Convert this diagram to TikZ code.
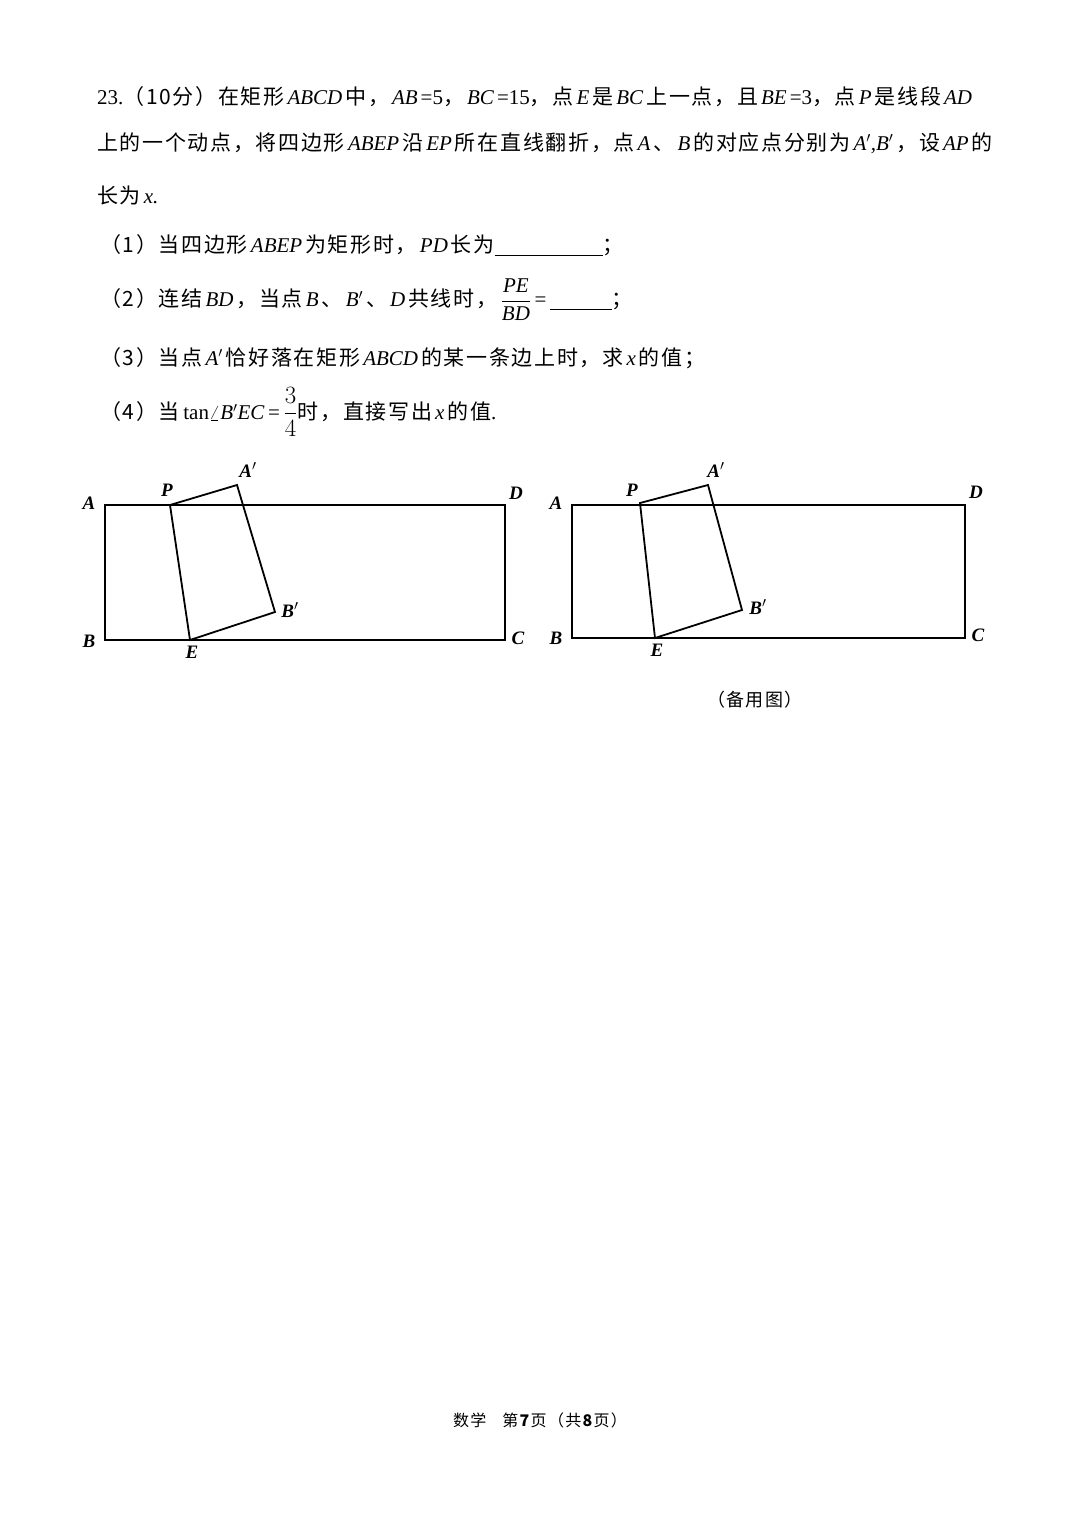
\documentclass[tikz,border=0pt]{standalone}
\usepackage{amsmath}
\usepackage{fontspec}
\setmainfont{Liberation Serif}
\newfontfamily\cjk[LetterSpace=8]{Noto Sans CJK SC}
\newcommand{\mi}[1]{\hspace{3pt}\textit{#1}\hspace{3pt}}
\begin{document}
\begin{tikzpicture}[x=1pt,y=-1pt,
  txt/.style={anchor=west,inner sep=0pt,font=\fontsize{21}{24}\selectfont},
  lbl/.style={inner sep=0pt,font=\fontsize{19}{22}\selectfont\bfseries\itshape},
  edge/.style={line width=1.1pt},
  fold/.style={line width=1.8pt}]
\useasboundingbox[fill=white] (0,0) rectangle (1080,1527);
\node[txt] (l1) at (97,97) {23.{\cjk（10分）在矩形}\mi{ABCD}{\cjk 中，}\mi{AB}=5{\cjk ，}\mi{BC}=15{\cjk ，点}\mi{E}{\cjk 是}\mi{BC}{\cjk 上一点，且}\mi{BE}=3{\cjk ，点}\mi{P}{\cjk 是线段}\mi{AD}};
\node[txt] (l2) at (97,143) {{\cjk 上的一个动点，将四边形}\mi{ABEP}{\cjk 沿}\mi{EP}{\cjk 所在直线翻折，点}\mi{A}{\cjk 、}\mi{B}{\cjk 的对应点分别为}\mi{A$'$,B$'$}{\cjk ，设}\mi{AP}{\cjk 的}};
\node[txt] (l3) at (97,195) {{\cjk 长为}\mi{x.}};
\node[txt] (q1) at (100,245) {{\cjk （1）当四边形}\mi{ABEP}{\cjk 为矩形时，}\mi{PD}{\cjk 长为}\rule[-3pt]{108pt}{0.8pt}{\cjk ；}};
\node[txt] (q2) at (100,300) {{\cjk （2）连结}\mi{BD}{\cjk ，当点}\mi{B}{\cjk 、}\mi{B$'$}{\cjk 、}\mi{D}{\cjk 共线时，}\,$\dfrac{\textit{PE}}{\textit{BD}}$\,=\,\rule[-3pt]{62pt}{0.8pt}{\cjk ；}};
\node[txt] (q3) at (100,358) {{\cjk （3）当点}\mi{A$'$}{\cjk 恰好落在矩形}\mi{ABCD}{\cjk 的某一条边上时，求}\mi{x}{\cjk 的值；}};
\node[txt] (q4) at (100,412) {{\cjk （4）当}\,tan$\angle$\textit{B}$'$\textit{EC}\,=\,\scalebox{1.2}{$\dfrac{3}{4}$}{\cjk 时，直接写出}\mi{x}{\cjk 的值}.};
% figure 1
\coordinate (A1) at (105,505); \coordinate (D1) at (505,505);
\coordinate (B1) at (105,640); \coordinate (C1) at (505,640);
\coordinate (P1) at (170,505); \coordinate (Ap1) at (237,485);
\coordinate (Bp1) at (275,612); \coordinate (E1) at (190,640);
\draw[edge] (A1) -- (D1) -- (C1) -- (B1) -- cycle;
\draw[fold] (P1) -- (Ap1) -- (Bp1) -- (E1) -- cycle;
\node[lbl] (la1) at (89,503) {A}; \node[lbl] (ld1) at (516,493) {D};
\node[lbl] (lb1) at (89,641) {B}; \node[lbl] (lc1) at (518,638) {C};
\node[lbl] (lp1) at (167,490) {P}; \node[lbl] (lap1) at (248,470) {A$'$};
\node[lbl] (lbp1) at (290,610) {B$'$}; \node[lbl] (le1) at (192,652) {E};
% figure 2
\coordinate (A2) at (572,505); \coordinate (D2) at (965,505);
\coordinate (B2) at (572,638); \coordinate (C2) at (965,638);
\coordinate (P2) at (640,503); \coordinate (Ap2) at (708,485);
\coordinate (Bp2) at (742,610); \coordinate (E2) at (655,638);
\draw[edge] (A2) -- (D2) -- (C2) -- (B2) -- cycle;
\draw[fold] (P2) -- (Ap2) -- (Bp2) -- (E2) -- cycle;
\node[lbl] (la2) at (556,503) {A}; \node[lbl] (ld2) at (976,492) {D};
\node[lbl] (lb2) at (556,638) {B}; \node[lbl] (lc2) at (978,635) {C};
\node[lbl] (lp2) at (632,490) {P}; \node[lbl] (lap2) at (716,470) {A$'$};
\node[lbl] (lbp2) at (758,607) {B$'$}; \node[lbl] (le2) at (657,650) {E};
\node[inner sep=0pt,font=\fontsize{18}{20}\selectfont\cjk] (cap) at (755,700) {（备用图）};
\node[inner sep=0pt,font=\fontsize{16}{20}\selectfont\cjk] (foot) at (540,1420) {数学\quad 第\textbf{7}页（共\textbf{8}页）};
\end{tikzpicture}
\end{document}
